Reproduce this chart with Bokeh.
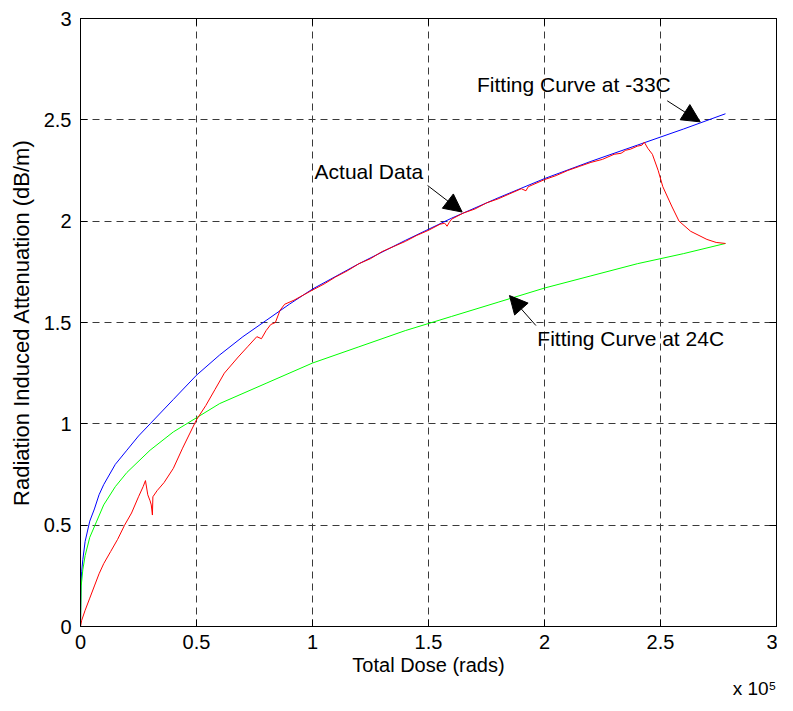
from bokeh.plotting import figure
from bokeh.models import Range1d, FixedTicker, LinearAxis, Label, Arrow, NormalHead, Title
from bokeh.embed import file_html
from bokeh.resources import INLINE

FONT = "Liberation Sans"

# Total dose in units of 1e5 rads
dose_m33 = [0, 0.002, 0.005, 0.01, 0.02, 0.04, 0.06, 0.08, 0.1, 0.15, 0.2, 0.25, 0.3, 0.4,
            0.5, 0.6, 0.7, 0.8, 0.9, 1.0, 1.2, 1.4, 1.6, 1.8, 2.0, 2.2, 2.4, 2.6, 2.78]
att_m33 = [0, 0.2, 0.27, 0.33, 0.42, 0.52, 0.58, 0.65, 0.7, 0.8, 0.87, 0.94, 1.0, 1.12,
           1.24, 1.34, 1.43, 1.51, 1.59, 1.665, 1.79, 1.905, 2.015, 2.115, 2.21, 2.295, 2.375, 2.455, 2.53]

dose_24 = [0, 0.003, 0.01, 0.02, 0.04, 0.07, 0.1, 0.15, 0.2, 0.3, 0.4, 0.5, 0.6, 0.8, 1.0,
           1.2, 1.4, 1.6, 1.8, 2.0, 2.2, 2.4, 2.6, 2.78]
att_24 = [0, 0.2, 0.28, 0.35, 0.44, 0.52, 0.6, 0.69, 0.76, 0.87, 0.96, 1.03, 1.1, 1.2, 1.3,
          1.38, 1.46, 1.53, 1.6, 1.67, 1.73, 1.79, 1.84, 1.89]

dose_actual = [0, 0.005, 0.02, 0.04, 0.06, 0.08, 0.1, 0.13, 0.16, 0.19, 0.22, 0.25, 0.27, 0.28,
               0.29, 0.30, 0.305, 0.31, 0.312, 0.33, 0.36, 0.40, 0.44, 0.47, 0.50, 0.54, 0.58,
               0.62, 0.65, 0.68, 0.72, 0.76, 0.78, 0.80, 0.82, 0.84, 0.86, 0.88, 0.92, 0.96,
               1.0, 1.05, 1.1, 1.15, 1.2, 1.25, 1.3, 1.35, 1.4, 1.45, 1.5, 1.55, 1.57, 1.58,
               1.59, 1.6, 1.65, 1.7, 1.75, 1.8, 1.85, 1.9, 1.92, 1.93, 1.95, 2.0, 2.05, 2.1,
               2.15, 2.2, 2.25, 2.3, 2.33, 2.35, 2.37, 2.4, 2.42, 2.43, 2.445, 2.465, 2.49, 2.51,
               2.55, 2.58, 2.63, 2.70, 2.74, 2.78]
att_actual = [0, 0.03, 0.08, 0.14, 0.2, 0.26, 0.31, 0.37, 0.43, 0.5, 0.56, 0.64, 0.69, 0.72,
              0.65, 0.62, 0.6, 0.55, 0.64, 0.67, 0.71, 0.78, 0.88, 0.95, 1.02, 1.09, 1.17,
              1.25, 1.29, 1.33, 1.38, 1.43, 1.42, 1.46, 1.49, 1.50, 1.56, 1.59, 1.61, 1.635,
              1.66, 1.69, 1.725, 1.755, 1.79, 1.815, 1.85, 1.875, 1.90, 1.93, 1.955, 1.985, 1.99, 1.975,
              1.995, 2.01, 2.04, 2.06, 2.09, 2.11, 2.135, 2.16, 2.15, 2.17, 2.18, 2.205, 2.225, 2.25,
              2.27, 2.29, 2.305, 2.33, 2.335, 2.35, 2.355, 2.37, 2.375, 2.39, 2.36, 2.33, 2.25, 2.17,
              2.07, 2.0, 1.95, 1.91, 1.895, 1.89]

tick_values = [0, 0.5, 1, 1.5, 2, 2.5, 3]
tick_labels = ["0", "0.5", "1", "1.5", "2", "2.5", "3"]
exponent_note = "x 10\u2075"

p = figure(width=777, height=695, x_range=Range1d(0, 3), y_range=Range1d(0, 3),
           output_backend="svg", toolbar_location=None,
           min_border_left=80, min_border_right=1, min_border_top=18, min_border_bottom=58)
p.background_fill_color = "white"
p.border_fill_color = "white"
p.outline_line_color = "black"
p.outline_line_width = 1

ticker = FixedTicker(ticks=tick_values)
overrides = dict(zip(tick_values, tick_labels))
for ax in (p.xaxis[0], p.yaxis[0]):
    ax.ticker = ticker
    ax.major_label_overrides = overrides
    ax.minor_tick_line_color = None
    ax.major_tick_in = 7
    ax.major_tick_out = 0
    ax.axis_line_color = "black"
    ax.major_tick_line_color = "black"
    ax.major_label_text_font = FONT
    ax.major_label_text_font_size = "20px"
    ax.major_label_text_color = "black"
    ax.axis_label_text_font = FONT
    ax.axis_label_text_font_style = "normal"
    ax.axis_label_text_color = "black"

p.xaxis.axis_label = "Total Dose (rads)"
p.xaxis.axis_label_text_font_size = "20px"
p.xaxis.major_label_standoff = 8
p.xaxis.axis_label_standoff = 2
p.yaxis.axis_label = "Radiation Induced Attenuation (dB/m)"
p.yaxis.axis_label_text_font_size = "22px"
p.yaxis.major_label_standoff = 9
p.yaxis.axis_label_standoff = 7

for loc in ("above", "right"):
    ax = LinearAxis(ticker=ticker, major_label_text_font_size="0px", major_label_standoff=0,
                    minor_tick_line_color=None, major_tick_in=7, major_tick_out=0,
                    axis_line_color="black", major_tick_line_color="black")
    p.add_layout(ax, loc)

for g in (p.xgrid[0], p.ygrid[0]):
    g.ticker = ticker
    g.grid_line_color = "#3a3a3a"
    g.grid_line_dash = "7 5"
    g.grid_line_width = 1

p.line(dose_m33, att_m33, line_color="#0000ff", line_width=1)
p.line(dose_24, att_24, line_color="#00ff00", line_width=1)
p.line(dose_actual, att_actual, line_color="#ff0000", line_width=1)

def note(text, x, y):
    p.add_layout(Label(x=x, y=y, text=text, text_font=FONT, text_font_size="21px",
                       text_color="black", text_baseline="middle", text_align="left"))

def arrow(x0, y0, x1, y1):
    p.add_layout(Arrow(x_start=x0, y_start=y0, x_end=x1, y_end=y1, line_color="black",
                       line_width=1,
                       end=NormalHead(size=18, fill_color="black", line_color="black")))

note("Fitting Curve at -33C", 1.709, 2.673)
arrow(2.529, 2.594, 2.671, 2.490)
note("Actual Data", 1.009, 2.246)
arrow(1.496, 2.176, 1.645, 2.045)
note("Fitting Curve at 24C", 1.969, 1.420)
arrow(1.963, 1.485, 1.849, 1.633)

p.add_layout(Title(text=exponent_note, align="right", offset=0, standoff=-6,
                   vertical_align="bottom", text_font=FONT, text_font_size="19px",
                   text_font_style="normal", text_color="black"), "below")

open("out.html", "w").write(file_html(p, INLINE))
